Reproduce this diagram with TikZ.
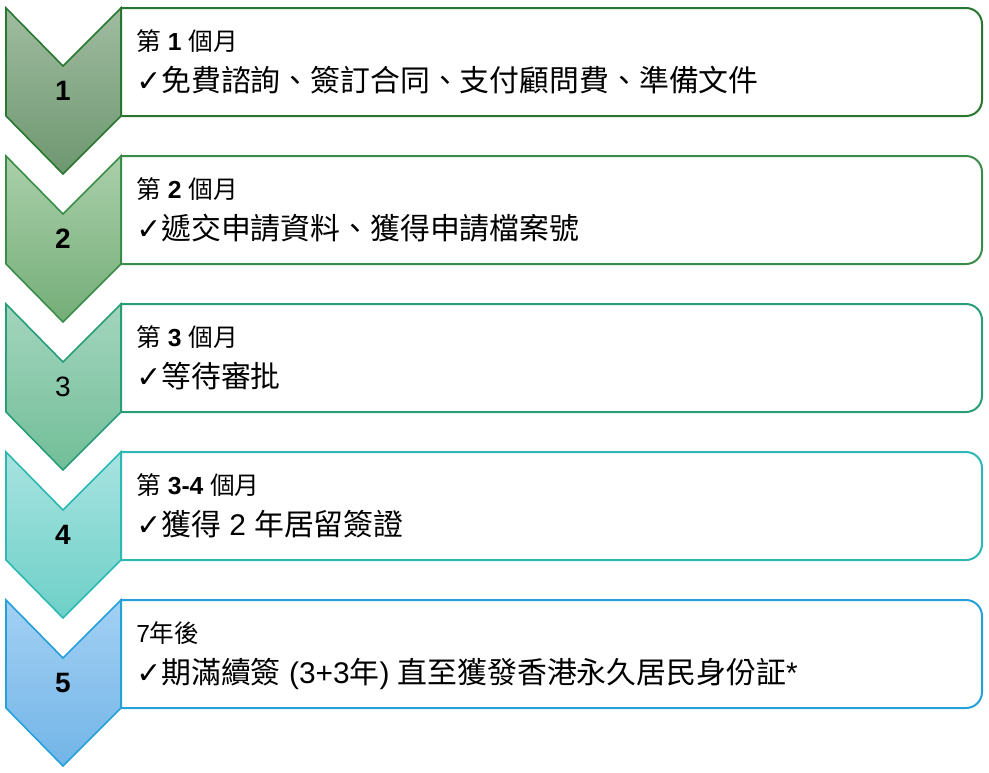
\documentclass[tikz,border=0pt]{standalone}
\usepackage{fontspec}
\setmainfont{Liberation Sans}
\newfontfamily\zhfont{Noto Sans CJK TC}
\newfontfamily\checkfont{DejaVu Sans}
\definecolor{bA}{RGB}{40,118,48}
\definecolor{bB}{RGB}{58,141,72}
\definecolor{bC}{RGB}{40,157,120}
\definecolor{bD}{RGB}{45,184,179}
\definecolor{bE}{RGB}{37,160,216}
\definecolor{tA}{RGB}{160,188,160}
\definecolor{uA}{RGB}{110,151,112}
\definecolor{tB}{RGB}{170,207,170}
\definecolor{uB}{RGB}{116,174,120}
\definecolor{tC}{RGB}{163,213,190}
\definecolor{uC}{RGB}{114,190,152}
\definecolor{tD}{RGB}{167,227,224}
\definecolor{uD}{RGB}{110,208,200}
\definecolor{tE}{RGB}{163,208,243}
\definecolor{uE}{RGB}{114,181,232}
\tikzset{
  boxline/.style={line width=1.5pt, fill=white},
  chevline/.style={line width=1.2pt, line join=miter},
  numtext/.style={inner sep=0pt, font=\fontsize{21}{24}\selectfont},
  firstline/.style={inner sep=0pt, anchor=base west, font=\fontsize{18.5}{22}\selectfont},
  secondline/.style={inner sep=0pt, anchor=base west, font=\fontsize{22.4}{26}\selectfont},
}
\newcommand{\chk}{{\checkfont\bfseries ✓}}
\newcommand{\mystage}[8]{%
  \draw[boxline, draw=#3] (121,#2) -- (966,#2) arc[start angle=90,end angle=0,radius=12pt]
     -- (982,#2+92) arc[start angle=0,end angle=-90,radius=12pt] -- (121,#2+108) -- cycle;
  \path[chevline, draw=#3, top color=#4, bottom color=#5]
     (6,#2) -- (63,#2+58) -- (121,#2) -- (121,#2+108) -- (63,#2+166) -- (6,#2+108) -- cycle;
  \node[numtext] (num#1) at (63,#2+83) {#6};
  \node[firstline] (head#1) at (136,#2+42) {#7};
  \node[secondline] (body#1) at (136,#2+83) {#8};
}
\begin{document}
\begin{tikzpicture}[x=0.75pt,y=-0.75pt]
\useasboundingbox (0,0) rectangle (989,772);
\mystage{1}{8}{bA}{tA}{uA}{\bfseries 1}{{\zhfont 第} {\bfseries 1} {\zhfont 個月}}{\chk{\zhfont 免費諮詢、簽訂合同、支付顧問費、準備文件}}
\mystage{2}{156}{bB}{tB}{uB}{\bfseries 2}{{\zhfont 第} {\bfseries 2} {\zhfont 個月}}{\chk{\zhfont 遞交申請資料、獲得申請檔案號}}
\mystage{3}{304}{bC}{tC}{uC}{3}{{\zhfont 第} {\bfseries 3} {\zhfont 個月}}{\chk{\zhfont 等待審批}}
\mystage{4}{452}{bD}{tD}{uD}{\bfseries 4}{{\zhfont 第} {\bfseries 3-4} {\zhfont 個月}}{\chk{\zhfont 獲得} 2 {\zhfont 年居留簽證}}
\mystage{5}{600}{bE}{tE}{uE}{\bfseries 5}{7{\zhfont 年後}}{\chk{\zhfont 期滿續簽} (3+3{\zhfont 年}) {\zhfont 直至獲發香港永久居民身份証}*}
\end{tikzpicture}
\end{document}
